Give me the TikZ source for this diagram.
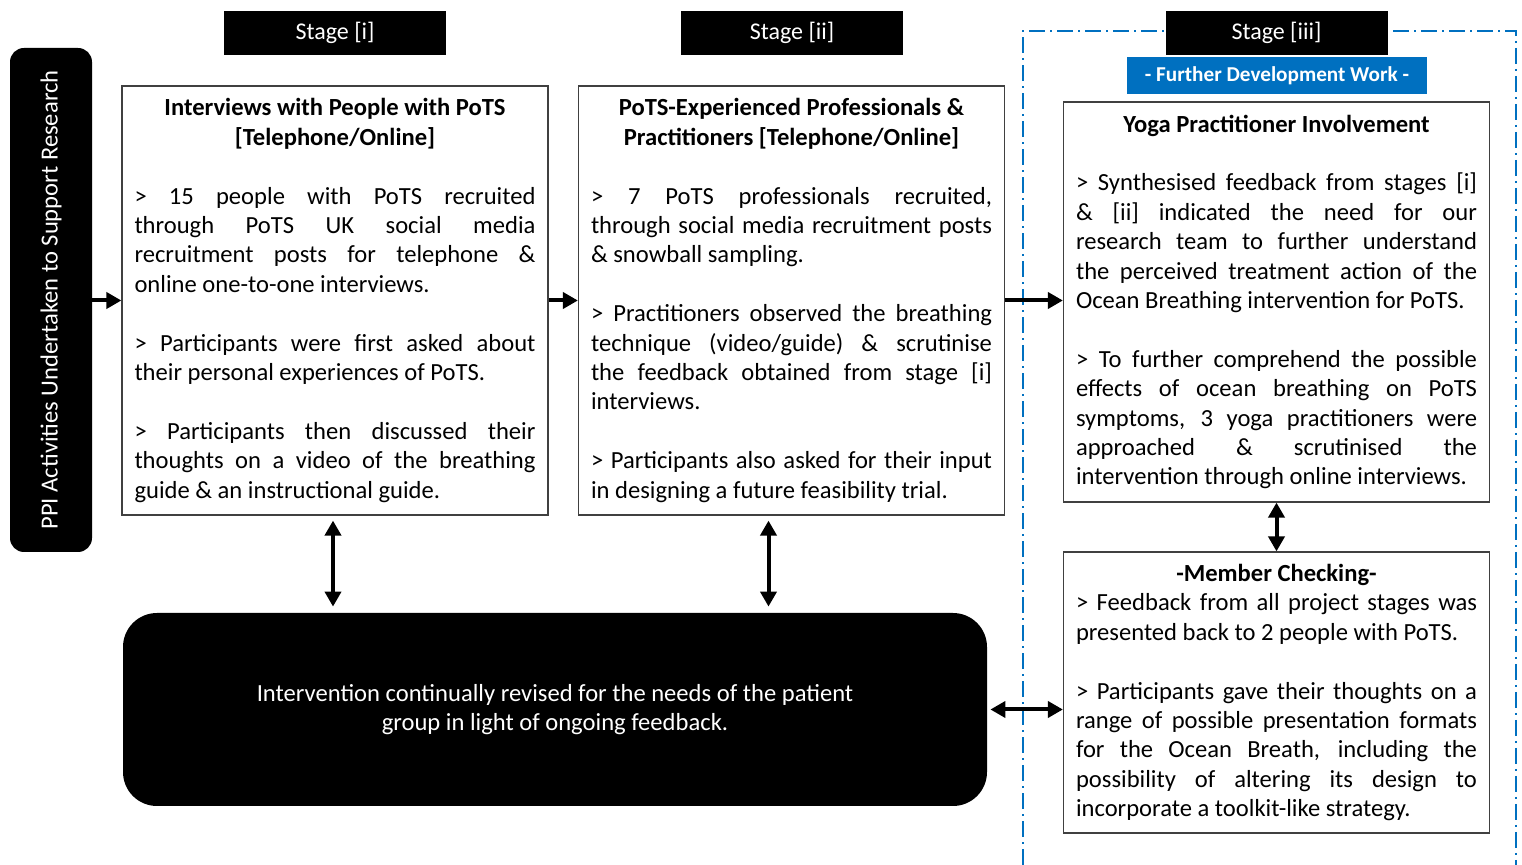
\documentclass[tikz,border=0pt]{standalone}
\usepackage{fontspec}
\setmainfont{Carlito}
\usepackage{tikz}
\usetikzlibrary{arrows.meta,calc,positioning,shapes}
\definecolor{ppiblue}{RGB}{0,112,192}
\newcommand{\bodyfont}{\fontsize{12.3}{14.7}\selectfont}
\newcommand{\gap}{\\[14.7pt]}

\begin{document}
\begin{tikzpicture}[x=0.5pt,y=-0.5pt,>={Triangle[length=7.5pt,width=8pt]},
    stagebox/.style={fill=black,text=white,minimum width=111pt,minimum height=22pt,
                     inner sep=0pt,font=\fontsize{12}{14}\selectfont},
    infobox/.style={draw=black!75,line width=0.6pt,fill=white,text width=200.5pt,
                    inner xsep=6.25pt,inner ysep=0pt,align=justify,font=\bodyfont},
    link/.style={->,line width=2pt},
    twoway/.style={<->,line width=2pt}]

  \useasboundingbox (0,0) rectangle (1522,865);

  % stage iii frame, open at the bottom
  \draw[ppiblue,line width=1pt,dash pattern=on 8pt off 2.5pt on 1pt off 2.5pt]
        (1023,865) -- (1023,31) -- (1516,31) -- (1516,865);

  \node[fill=black,text=white,rounded corners=7pt,rotate=90,minimum width=252pt,
        minimum height=41pt,inner sep=0pt,font=\bodyfont] at(51,300) (side)
        {PPI Activities Undertaken to Support Research};

  \node[stagebox] at(335,33) (stage1) {Stage [i]};
  \node[stagebox] at(792,33) (stage2) {Stage [ii]};
  \node[stagebox] at(1276.5,33) (stage3) {Stage [iii]};
  \node[fill=ppiblue,text=white,minimum width=150pt,minimum height=18.5pt,inner sep=0pt,
        font=\fontsize{10.6}{12}\selectfont\bfseries] at(1277,76) (further)
        {- Further Development Work -};

  \node[infobox,minimum height=214.5pt] at(335,300.5) (interviews) {%
    {\centering\bfseries Interviews with People with PoTS\\{[Telephone/Online]}\par}
    \vspace{14.7pt}
    > 15 people with PoTS recruited\linebreak
    through PoTS UK social media\linebreak
    recruitment posts for telephone \&\linebreak
    online one-to-one interviews.\gap
    > Participants were first asked about\linebreak
    their personal experiences of PoTS.\gap
    > Participants then discussed their\linebreak
    thoughts on a video of the breathing\linebreak
    guide \& an instructional guide.};

  \node[infobox,minimum height=214.5pt] at(791.5,300.5) (professionals) {%
    {\centering\bfseries PoTS-Experienced Professionals \&\\Practitioners [Telephone/Online]\par}
    \vspace{14.7pt}
    > 7 PoTS professionals recruited,\linebreak
    through social media recruitment posts\linebreak
    \& snowball sampling.\gap
    > Practitioners observed the breathing\linebreak
    technique (video/guide) \& scrutinise\linebreak
    the feedback obtained from stage [i]\linebreak
    interviews.\gap
    > Participants also asked for their input\linebreak
    in designing a future feasibility trial.};

  \node[infobox,minimum height=200pt] at(1276.5,302) (yoga) {%
    {\centering\bfseries Yoga Practitioner Involvement\par}
    \vspace{14.7pt}
    > Synthesised feedback from stages [i]\linebreak
    \& [ii] indicated the need for our\linebreak
    research team to further understand\linebreak
    the perceived treatment action of the\linebreak
    Ocean Breathing intervention for PoTS.\gap
    > To further comprehend the possible\linebreak
    effects of ocean breathing on PoTS\linebreak
    symptoms, 3 yoga practitioners were\linebreak
    approached \& scrutinised the\linebreak
    intervention through online interviews.};

  \node[infobox,minimum height=140.5pt] at(1276.5,692.5) (checking) {%
    {\centering\bfseries -Member Checking-\par}
    > Feedback from all project stages was\linebreak
    presented back to 2 people with PoTS.\gap
    > Participants gave their thoughts on a\linebreak
    range of possible presentation formats\linebreak
    for the Ocean Breath, including the\linebreak
    possibility of altering its design to\linebreak
    incorporate a toolkit-like strategy.};

  \node[fill=black,text=white,rounded corners=17pt,minimum width=432pt,minimum height=96.5pt,
        align=center,font=\bodyfont] at(555,709.5) (revised)
        {Intervention continually revised for the needs of the patient\\
         group in light of ongoing feedback.};

  \draw[link] (side.south |- interviews.west) -- (interviews.west);
  \draw[link] (interviews.east) -- (professionals.west);
  \draw[link] (professionals.east) -- (professionals.east -| yoga.west);
  \draw[twoway,shorten <=2.5pt,shorten >=3pt] ($(interviews.south)+(-2,0)$) -- ($(interviews.south |- revised.north)+(-2,0)$);
  \draw[twoway,shorten <=2.5pt,shorten >=3pt] ($(professionals.south)+(-23,0)$) -- ($(professionals.south |- revised.north)+(-23,0)$);
  \draw[twoway] (yoga.south) -- (checking.north);
  \draw[twoway,shorten <=1.5pt] (revised.east) -- (revised.east -| checking.west);

\end{tikzpicture}
\end{document}
